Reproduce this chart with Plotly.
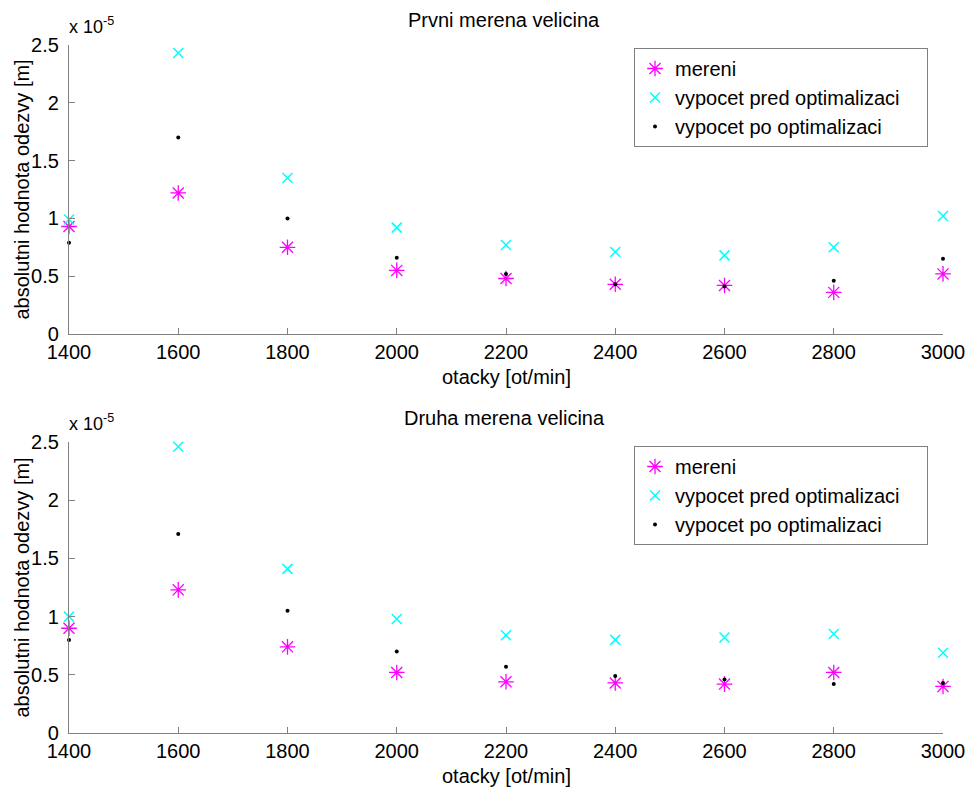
import plotly.graph_objects as go

# x values: otacky [ot/min]
otacky = [1400, 1600, 1800, 2000, 2200, 2400, 2600, 2800, 3000]

# values in units of 1e-5 m
prvni_mereni = [0.93, 1.22, 0.75, 0.55, 0.48, 0.43, 0.42, 0.36, 0.52]
prvni_pred = [0.99, 2.43, 1.35, 0.92, 0.77, 0.71, 0.68, 0.75, 1.02]
prvni_po = [0.79, 1.70, 1.00, 0.66, 0.52, 0.43, 0.41, 0.46, 0.65]

druha_mereni = [0.90, 1.23, 0.74, 0.52, 0.44, 0.43, 0.42, 0.52, 0.40]
druha_pred = [1.00, 2.46, 1.41, 0.98, 0.84, 0.80, 0.82, 0.85, 0.69]
druha_po = [0.80, 1.71, 1.05, 0.70, 0.57, 0.49, 0.46, 0.42, 0.43]

names = ["mereni", "vypocet pred optimalizaci", "vypocet po optimalizaci"]
titles = ["Prvni merena velicina", "Druha merena velicina"]
x_title = "otacky [ot/min]"
y_title = "absolutni hodnota odezvy [m]"
y_ticks = [0, 0.5, 1, 1.5, 2, 2.5]
y_ticklabels = ["0", "0.5", "1", "1.5", "2", "2.5"]
x_ticks = [1400, 1600, 1800, 2000, 2200, 2400, 2600, 2800, 3000]

FONT = "Liberation Sans, Arial, sans-serif"
FS = 20
W, H = 967, 787
PAD = "\u00a0" * 4  # extra right padding inside the legend box
fig = go.Figure()

panels = [
    (prvni_mereni, prvni_pred, prvni_po, "x", "y", "legend"),
    (druha_mereni, druha_pred, druha_po, "x2", "y2", "legend2"),
]
for mer, pred, po, xa, ya, lg in panels:
    fig.add_trace(go.Scatter(x=otacky, y=mer, mode="markers", name=names[0],
                             xaxis=xa, yaxis=ya, legend=lg, cliponaxis=False,
                             marker=dict(symbol="asterisk-open", size=13, color="#ff00ff",
                                         line=dict(color="#ff00ff", width=1.3))))
    fig.add_trace(go.Scatter(x=otacky, y=pred, mode="markers", name=names[1] + PAD,
                             xaxis=xa, yaxis=ya, legend=lg, cliponaxis=False,
                             marker=dict(symbol="x-thin-open", size=10, color="#00ffff",
                                         line=dict(color="#00ffff", width=1.5))))
    fig.add_trace(go.Scatter(x=otacky, y=po, mode="markers", name=names[2],
                             xaxis=xa, yaxis=ya, legend=lg, cliponaxis=False,
                             marker=dict(symbol="circle", size=4, color="black")))

def px2fx(p):
    return p / W

def py2fy(p):
    return 1 - p / H

axis_common = dict(showline=True, linecolor="#808080", linewidth=1.2,
                   ticks="inside", tickcolor="#808080", ticklen=6,
                   showgrid=False, zeroline=False, mirror=False, automargin=False,
                   ticklabeloverflow="allow",
                   tickfont=dict(family=FONT, size=FS, color="black"))

x_dom = [px2fx(69), px2fx(943)]
LFS = 20
fig.update_layout(
    width=W, height=H,
    margin=dict(l=0, r=0, t=0, b=0),
    paper_bgcolor="white", plot_bgcolor="white",
    font=dict(family=FONT, color="black", size=FS),
    xaxis=dict(domain=x_dom, range=[1400, 3000], tickvals=x_ticks, anchor="y", **axis_common),
    yaxis=dict(domain=[py2fy(334), py2fy(45)], range=[0, 2.5], tickvals=y_ticks,
               ticktext=y_ticklabels, anchor="x", ticklabelstandoff=5, **axis_common),
    xaxis2=dict(domain=x_dom, range=[1400, 3000], tickvals=x_ticks, anchor="y2", **axis_common),
    yaxis2=dict(domain=[py2fy(733), py2fy(442)], range=[0, 2.5], tickvals=y_ticks,
                ticktext=y_ticklabels, anchor="x2", ticklabelstandoff=5, **axis_common),
    legend=dict(x=px2fx(634), y=py2fy(48), xanchor="left", yanchor="top",
                bgcolor="white", bordercolor="#808080", borderwidth=1,
                font=dict(size=LFS), tracegroupgap=0, itemsizing="trace"),
    legend2=dict(x=px2fx(634), y=py2fy(446), xanchor="left", yanchor="top",
                 bgcolor="white", bordercolor="#808080", borderwidth=1,
                 font=dict(size=LFS), tracegroupgap=0, itemsizing="trace"),
    showlegend=True,
)

annotations = []
for title, ytop, ybot, ytitle in [(titles[0], 45, 334, 20), (titles[1], 442, 733, 418)]:
    annotations.append(dict(text=title, x=px2fx(504), y=py2fy(ytitle), xref="paper", yref="paper",
                            showarrow=False, font=dict(size=FS), xanchor="center", yanchor="middle"))
    annotations.append(dict(text="x 10<sup>-5</sup>", x=px2fx(67), y=py2fy(ytop - 6), xref="paper",
                            yref="paper", showarrow=False, font=dict(size=18),
                            xanchor="left", yanchor="bottom"))
    annotations.append(dict(text=x_title, x=px2fx(506), y=py2fy(ybot + 43), xref="paper",
                            yref="paper", showarrow=False, font=dict(size=FS),
                            xanchor="center", yanchor="middle"))
    annotations.append(dict(text=y_title, x=px2fx(21), y=py2fy((ytop + ybot) / 2), xref="paper",
                            yref="paper", showarrow=False, font=dict(size=FS), textangle=-90,
                            xanchor="center", yanchor="middle"))
fig.update_layout(annotations=annotations)

fig.write_html("out.html", config={"displayModeBar": False},
               post_script="document.body.style.margin='0';document.body.style.overflow='hidden';")
